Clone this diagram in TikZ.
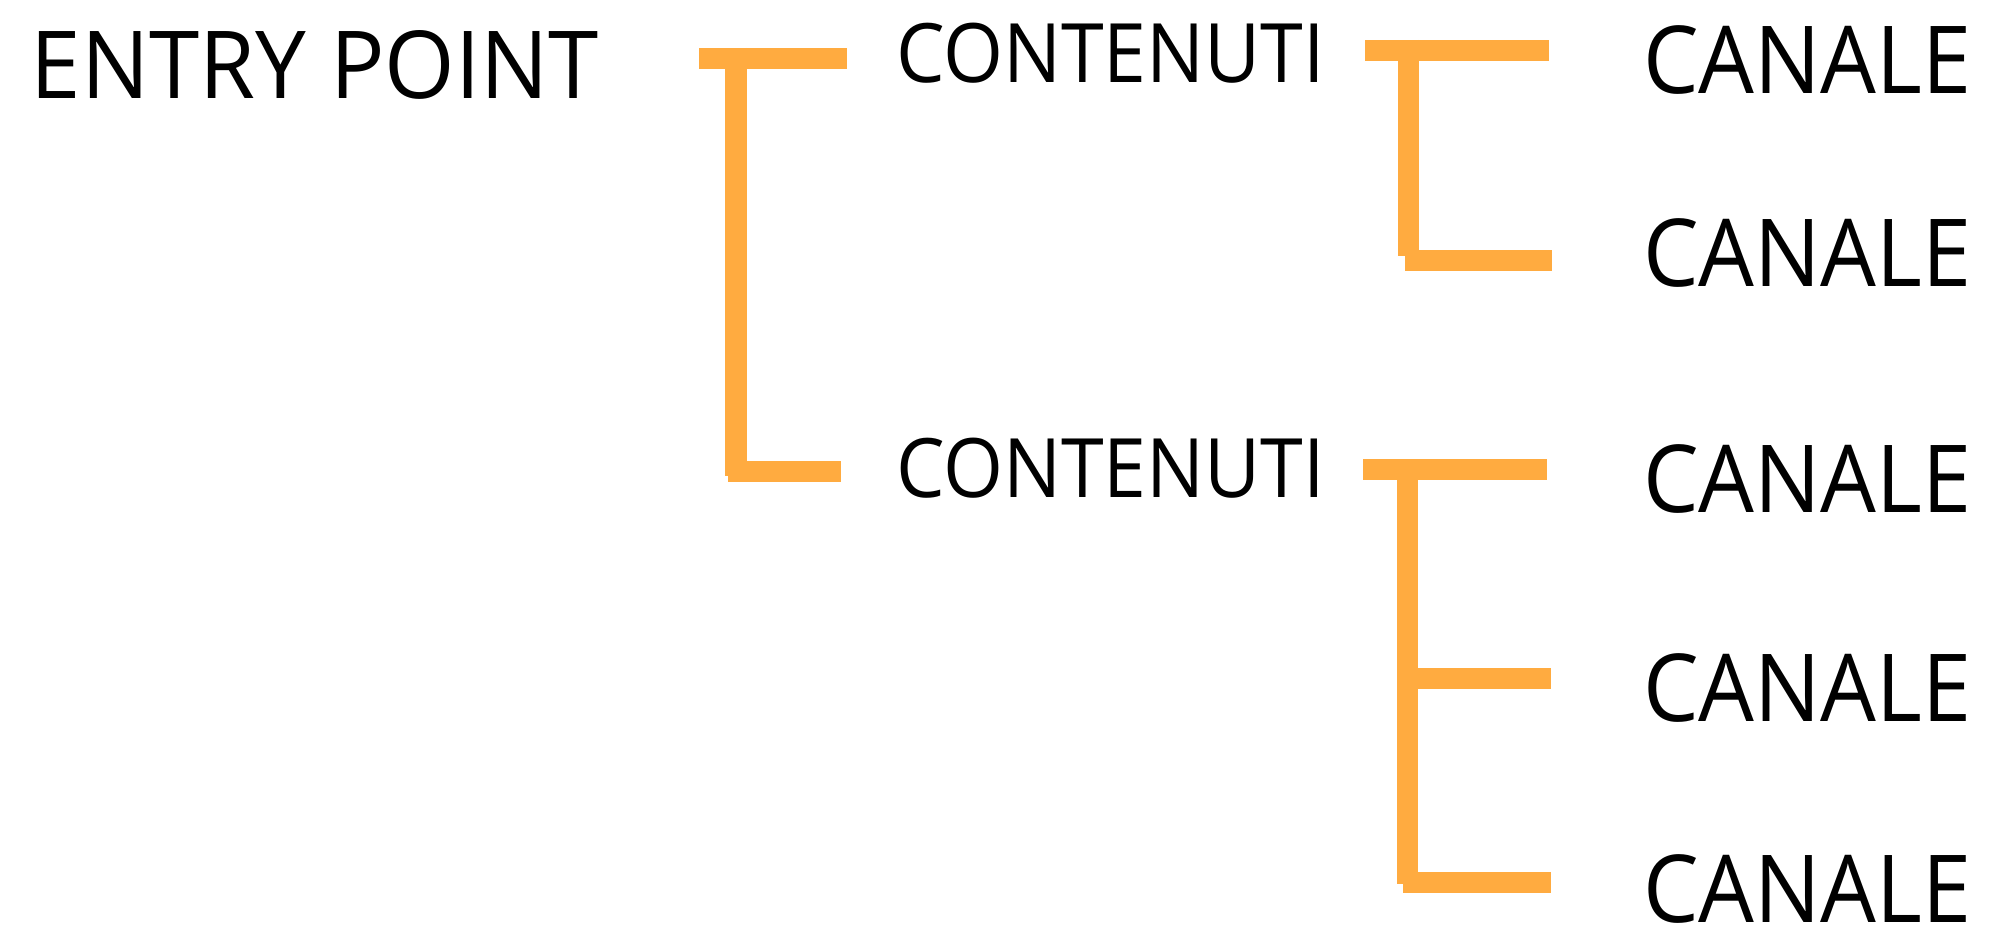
\documentclass[tikz,border=0pt]{standalone}
\usepackage{fontspec}
\setmainfont{Open Sans}[FakeStretch=0.94]
\newfontfamily\entryfont{Open Sans}[FakeStretch=0.966]
\definecolor{barorange}{RGB}{255,171,64}
\tikzset{
  lbl/.style={anchor=base west, inner sep=0pt, outer sep=0pt, text=black},
  big/.style={lbl, font=\fontsize{46.9pt}{50pt}\selectfont},
  mid/.style={lbl, font=\fontsize{41pt}{44pt}\selectfont},
  entrystyle/.style={lbl, font=\entryfont\fontsize{46.9pt}{50pt}\selectfont},
  hbar/.style={draw=barorange, line width=10.5pt, line cap=butt},
  vbar/.style={draw=barorange, line width=10.8pt, line cap=butt}
}
\begin{document}
\begin{tikzpicture}[x=0.5pt, y=-0.5pt]
\useasboundingbox (0,0) rectangle (1992,931);
% texts
\node[entrystyle] (entry) at (31,99) {ENTRY POINT};
\node[mid] (cont1) at (896,83) {CONTENUTI};
\node[mid] (cont2) at (896,497) {CONTENUTI};
\node[big] (can1) at (1643,94) {CANALE};
\node[big] (can2) at (1643,286) {CANALE};
\node[big] (can3) at (1643,512) {CANALE};
\node[big] (can4) at (1643,721) {CANALE};
\node[big] (can5) at (1643,922.5) {CANALE};
% left bracket
\coordinate (la) at (699,58.5);
\coordinate (lb) at (847,58.5);
\coordinate (lc) at (736,48);
\coordinate (ld) at (736,476);
\coordinate (le) at (728,471.5);
\coordinate (lf) at (841,471.5);
\draw[hbar] (la) -- (lb);
\draw[vbar] (lc) -- (ld);
\draw[hbar] (le) -- (lf);
% right top bracket
\coordinate (ra) at (1365,51);
\coordinate (rb) at (1549,51);
\coordinate (rc) at (1408.5,40);
\coordinate (rd) at (1408.5,256);
\coordinate (re) at (1405,260);
\coordinate (rf) at (1552,260);
\draw[hbar] (ra) -- (rb);
\draw[vbar] (rc) -- (rd);
\draw[hbar] (re) -- (rf);
% right bottom bracket
\coordinate (sa) at (1363,469.5);
\coordinate (sb) at (1547,469.5);
\coordinate (sc) at (1407.5,459);
\coordinate (sd) at (1407.5,884);
\coordinate (se) at (1406,678.5);
\coordinate (sf) at (1551,678.5);
\coordinate (sg) at (1403,882.5);
\coordinate (sh) at (1551,882.5);
\draw[hbar] (sa) -- (sb);
\draw[vbar] (sc) -- (sd);
\draw[hbar] (se) -- (sf);
\draw[hbar] (sg) -- (sh);
\end{tikzpicture}
\end{document}
